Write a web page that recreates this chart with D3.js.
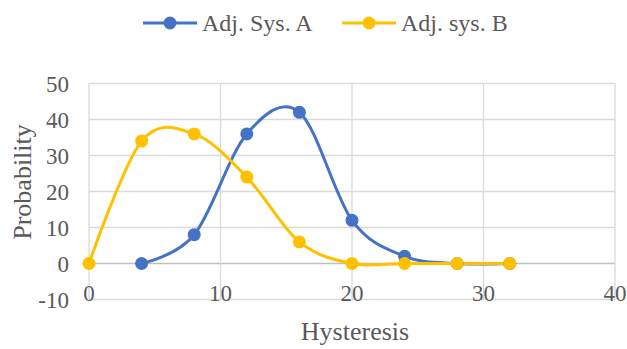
<!DOCTYPE html>
<html lang="en">
<head>
<meta charset="utf-8">
<script src="https://cdn.jsdelivr.net/npm/d3@7"></script>
<style>
  body { margin: 0; background: #fff; }
  text { fill: #595959; }
</style>
</head>
<body>
<svg id="chart" width="627" height="349"></svg>
<script>
// data
var xA = [4, 8, 12, 16, 20, 24, 28, 32];
var valuesA = [0, 8, 36, 42, 12, 2, 0, 0];
var xB = [0, 4, 8, 12, 16, 20, 24, 28, 32];
var valuesB = [0, 34, 36, 24, 6, 0, 0, 0, 0];
var xTicks = [0, 10, 20, 30, 40];
var yTicks = [-10, 0, 10, 20, 30, 40, 50];
var seriesNames = ["Adj. Sys. A", "Adj. sys. B"];
var colors = ["#4472C4", "#FFC000"];

var font = "'Liberation Serif', 'Times New Roman', Times, serif";

var svg = d3.select("#chart")
    .style("font-family", font);
var margin = {top: 83.5, right: 12, bottom: 49.5, left: 89};
var width = 627 - margin.left - margin.right;
var height = 349 - margin.top - margin.bottom;

var g = svg.append("g")
    .attr("transform", "translate(" + margin.left + "," + margin.top + ")");

var x = d3.scaleLinear().domain([0, 40]).range([0, width]);
var y = d3.scaleLinear().domain([-10, 50]).range([height, 0]);

// grid
g.append("g").selectAll("line")
    .data(yTicks)
    .enter().append("line")
    .attr("x1", 0).attr("x2", width)
    .attr("y1", function(d) { return y(d); })
    .attr("y2", function(d) { return y(d); })
    .attr("stroke", function(d) { return d === 0 ? "#bfbfbf" : "#d9d9d9"; })
    .attr("stroke-width", 1.3);

g.append("g").selectAll("line")
    .data(xTicks)
    .enter().append("line")
    .attr("y1", 0).attr("y2", height)
    .attr("x1", function(d) { return x(d); })
    .attr("x2", function(d) { return x(d); })
    .attr("stroke", "#d9d9d9")
    .attr("stroke-width", 1.3);

// tick labels
g.append("g").selectAll("text")
    .data(yTicks)
    .enter().append("text")
    .attr("x", -20)
    .attr("y", function(d) { return y(d); })
    .attr("dy", "0.35em")
    .attr("text-anchor", "end")
    .style("font-size", "23px")
    .text(function(d) { return d; });

g.append("g").selectAll("text")
    .data(xTicks)
    .enter().append("text")
    .attr("x", function(d) { return x(d); })
    .attr("y", height + 1)
    .attr("text-anchor", "middle")
    .style("font-size", "23px")
    .text(function(d) { return d; });

// axis titles
svg.append("text")
    .attr("transform", "translate(31,182) rotate(-90)")
    .attr("text-anchor", "middle")
    .style("font-size", "26px")
    .text("Probability");

svg.append("text")
    .attr("x", margin.left + width / 2 + 3)
    .attr("y", 340)
    .attr("text-anchor", "middle")
    .style("font-size", "26px")
    .text("Hysteresis");

// series
var line = d3.line()
    .x(function(d) { return x(d[0]); })
    .y(function(d) { return y(d[1]); })
    .curve(d3.curveCardinal.tension(0));

var series = [d3.zip(xA, valuesA), d3.zip(xB, valuesB)];

series.forEach(function(pts, i) {
    g.append("path")
        .datum(pts)
        .attr("fill", "none")
        .attr("stroke", colors[i])
        .attr("stroke-width", 3)
        .attr("stroke-linejoin", "round")
        .attr("d", line);
});

series.forEach(function(pts, i) {
    g.append("g").selectAll("circle")
        .data(pts)
        .enter().append("circle")
        .attr("cx", function(d) { return x(d[0]); })
        .attr("cy", function(d) { return y(d[1]); })
        .attr("r", 6.5)
        .attr("fill", colors[i]);
});

// legend
var legendX = [143, 342];
var legend = svg.append("g");
seriesNames.forEach(function(name, i) {
    var lx = legendX[i];
    legend.append("line")
        .attr("x1", lx).attr("x2", lx + 54)
        .attr("y1", 23).attr("y2", 23)
        .attr("stroke", colors[i])
        .attr("stroke-width", 3);
    legend.append("circle")
        .attr("cx", lx + 27).attr("cy", 23)
        .attr("r", 6.5)
        .attr("fill", colors[i]);
    legend.append("text")
        .attr("x", lx + 59)
        .attr("y", 23)
        .attr("dy", "0.35em")
        .style("font-size", "24px")
        .text(name);
});
</script>
</body>
</html>
